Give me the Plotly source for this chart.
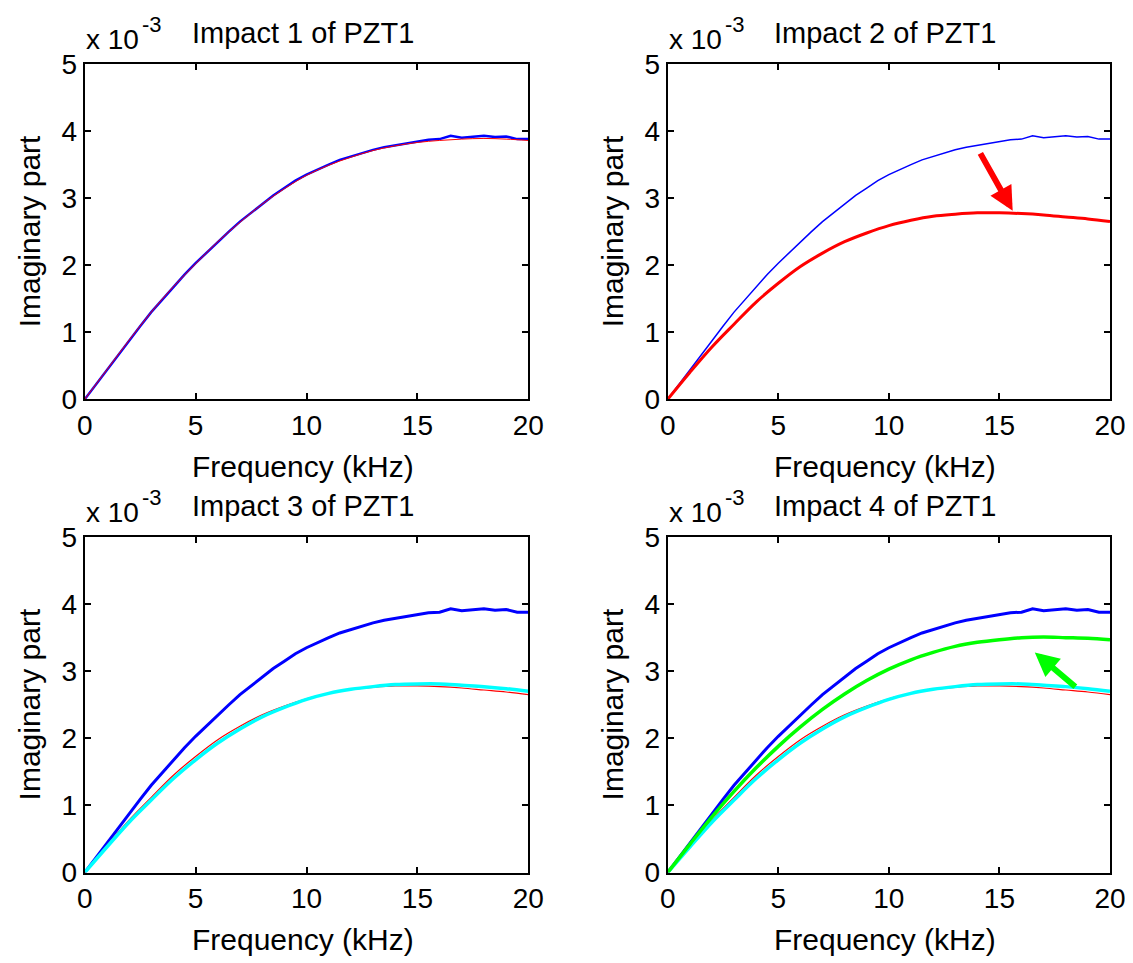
import plotly.graph_objects as go

# ---------------- data ----------------
freq_fine = [i * 0.5 for i in range(41)]          # kHz, 0..20 step 0.5
freq = list(range(21))                              # kHz, 0..20 step 1

baseline = [0, 0.22, 0.44, 0.66, 0.88, 1.09, 1.30, 1.49, 1.68, 1.86, 2.03, 2.19,
            2.35, 2.50, 2.65, 2.78, 2.92, 3.04, 3.15, 3.26, 3.35, 3.43, 3.50,
            3.57, 3.62, 3.68, 3.72, 3.76, 3.79, 3.82, 3.84, 3.87, 3.88, 3.93,
            3.90, 3.91, 3.93, 3.91, 3.92, 3.88, 3.88]
impact1 = [0, 0.44, 0.88, 1.30, 1.68, 2.02, 2.35, 2.64, 2.91, 3.14, 3.34, 3.49,
           3.61, 3.71, 3.78, 3.83, 3.86, 3.88, 3.89, 3.88, 3.86]
impact2 = [0, 0.40, 0.78, 1.12, 1.45, 1.73, 1.98, 2.18, 2.35, 2.48, 2.59, 2.67,
           2.73, 2.76, 2.78, 2.78, 2.77, 2.75, 2.72, 2.69, 2.65]
impact3 = [0, 0.38, 0.75, 1.08, 1.40, 1.68, 1.93, 2.14, 2.32, 2.46, 2.58, 2.67,
           2.73, 2.77, 2.80, 2.81, 2.81, 2.79, 2.77, 2.74, 2.70]
impact4 = [0, 0.42, 0.83, 1.21, 1.56, 1.88, 2.17, 2.43, 2.66, 2.86, 3.03, 3.17,
           3.28, 3.37, 3.43, 3.47, 3.50, 3.51, 3.50, 3.49, 3.47]

titles = ["Impact 1 of PZT1", "Impact 2 of PZT1", "Impact 3 of PZT1", "Impact 4 of PZT1"]
x_ticks = [0, 5, 10, 15, 20]
y_ticks = [0, 1, 2, 3, 4, 5]

BLUE, RED, CYAN, GREEN = "#0000FF", "#FF0000", "#00FFFF", "#00FF00"
FONT = "Liberation Sans, Arial, sans-serif"
OFF = 8                      # page body margin of the browser
W, H = 1133 - OFF, 963 - OFF

fig = go.Figure()

def add(xs, ys, color, width, ax, shape="spline"):
    fig.add_trace(go.Scatter(x=xs, y=ys, mode="lines",
                             line=dict(color=color, width=width, shape=shape),
                             xaxis="x" + ("" if ax == 1 else str(ax)),
                             yaxis="y" + ("" if ax == 1 else str(ax)),
                             showlegend=False, hoverinfo="skip"))

# panel 1
add(freq_fine, baseline, BLUE, 2.5, 1, "linear")
add(freq, impact1, RED, 1, 1)
# panel 2
add(freq_fine, baseline, BLUE, 1.5, 2, "linear")
add(freq, impact2, RED, 3, 2)
# panel 3
add(freq_fine, baseline, BLUE, 3, 3, "linear")
add(freq, impact2, RED, 1.2, 3)
add(freq, impact3, CYAN, 3.5, 3)
# panel 4
add(freq_fine, baseline, BLUE, 3, 4, "linear")
add(freq, impact2, RED, 1.2, 4)
add(freq, impact3, CYAN, 3.5, 4)
add(freq, impact4, GREEN, 3.5, 4)

# pixel geometry (screen pixels) of the four axes boxes
px_x = [(84.7, 528.3), (667.7, 1110.0)]
px_y = [(64.0, 399.3), (537.0, 872.5)]

def fx(px):
    return (px - OFF) / W

def fy(py):
    return 1 - (py - OFF) / H

axis_common = dict(showline=True, linecolor="black", linewidth=2, mirror="ticks",
                   ticks="inside", ticklen=6, tickwidth=1.5, tickcolor="black",
                   showgrid=False, zeroline=False, automargin=False,
                   tickfont=dict(family=FONT, size=28, color="black"))

layout = dict(template="none", width=W, height=H, autosize=False,
              margin=dict(l=0, r=0, t=0, b=0, pad=0),
              paper_bgcolor="white", plot_bgcolor="white", showlegend=False)

annotations = []
for i in range(4):
    r, c = divmod(i, 2)
    n = "" if i == 0 else str(i + 1)
    x0, x1 = px_x[c]
    y0, y1 = px_y[r]
    layout["xaxis" + n] = dict(axis_common, domain=[fx(x0), fx(x1)], range=[0, 20],
                               tickvals=x_ticks, anchor="y" + n)
    layout["yaxis" + n] = dict(axis_common, domain=[fy(y1), fy(y0)], range=[0, 5],
                               tickvals=y_ticks, anchor="x" + n)
    cx = (x0 + x1) / 2 - 4
    # title
    annotations.append(dict(text=titles[i], x=fx(cx), y=fy(y0 - 31), xref="paper",
                            yref="paper", showarrow=False, xanchor="center", yanchor="middle",
                            font=dict(family=FONT, size=29, color="black")))
    # x label
    annotations.append(dict(text="Frequency (kHz)", x=fx(cx), y=fy(y1 + 67),
                            xref="paper", yref="paper", showarrow=False, xanchor="center",
                            yanchor="middle", font=dict(family=FONT, size=30, color="black")))
    # y label
    annotations.append(dict(text="Imaginary part", x=fx(x0 - 55), y=fy((y0 + y1) / 2),
                            xref="paper", yref="paper", showarrow=False, textangle=-90,
                            xanchor="center", yanchor="middle",
                            font=dict(family=FONT, size=30, color="black")))
    # exponent label
    annotations.append(dict(text="x 10", x=fx(x0 - 1), y=fy(y0 - 24), xref="paper",
                            yref="paper", showarrow=False, xanchor="left", yanchor="middle",
                            font=dict(family=FONT, size=28, color="black")))
    annotations.append(dict(text="-3", x=fx(x0 + 55), y=fy(y0 - 40), xref="paper",
                            yref="paper", showarrow=False, xanchor="left", yanchor="middle",
                            font=dict(family=FONT, size=22, color="black")))

# arrows
annotations.append(dict(x=15.6, y=2.81, ax=14.1, ay=3.69, xref="x2", yref="y2",
                        axref="x2", ayref="y2", text="", showarrow=True, arrowhead=2,
                        arrowsize=0.8, arrowwidth=6, arrowcolor=RED))
annotations.append(dict(x=16.6, y=3.28, ax=18.5, ay=2.75, xref="x4", yref="y4",
                        axref="x4", ayref="y4", text="", showarrow=True, arrowhead=2,
                        arrowsize=0.8, arrowwidth=6, arrowcolor=GREEN))

layout["annotations"] = annotations
fig.update_layout(**layout)
fig.write_html("out.html")
